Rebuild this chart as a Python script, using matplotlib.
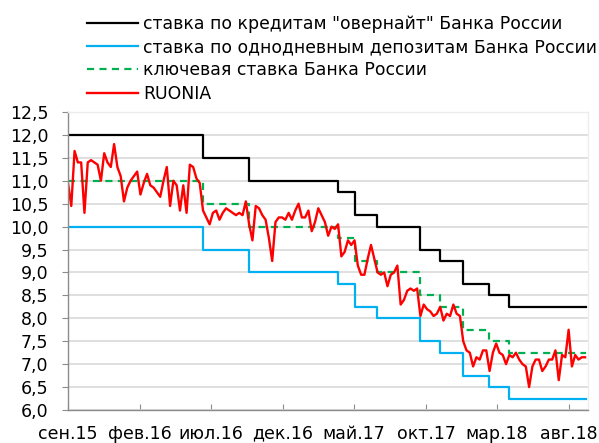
import matplotlib
matplotlib.use("Agg")
import matplotlib.pyplot as plt
import matplotlib.ticker as mticker
import pandas as pd

plt.rcParams['font.family'] = ['DejaVu Sans']

# Bank of Russia rate changes (date the new level came into force)
change_dates = ['2015-09-01', '2016-06-14', '2016-09-19', '2017-03-27', '2017-05-02',
                '2017-06-19', '2017-09-18', '2017-10-30', '2017-12-18', '2018-02-12',
                '2018-03-26', '2018-09-05']
overnight_rate = [12.0, 11.5, 11.0, 10.75, 10.25, 10.0, 9.5, 9.25, 8.75, 8.5, 8.25, 8.25]
deposit_rate = [10.0, 9.5, 9.0, 8.75, 8.25, 8.0, 7.5, 7.25, 6.75, 6.5, 6.25, 6.25]
key_rate = [11.0, 10.5, 10.0, 9.75, 9.25, 9.0, 8.5, 8.25, 7.75, 7.5, 7.25, 7.25]

# RUONIA, weekly readings from 1 Sep 2015
ruonia_start = '2015-09-01'
ruonia = [10.95, 10.45, 11.65, 11.4, 11.4, 10.3, 11.4, 11.45, 11.4, 11.35,
          11.0, 11.6, 11.4, 11.3, 11.8, 11.3, 11.1, 10.55, 10.85, 11.0,
          11.1, 11.2, 10.7, 10.95, 11.15, 10.9, 10.85, 10.75, 10.65, 11.0,
          11.3, 10.45, 11.0, 10.9, 10.35, 10.9, 10.3, 11.35, 11.3,
          11.05, 10.95, 10.35, 10.2, 10.05, 10.3, 10.35, 10.15, 10.3, 10.4,
          10.35, 10.3, 10.25, 10.3, 10.25, 10.55, 10.05, 9.7, 10.45, 10.4,
          10.25, 10.15, 9.75, 9.25, 10.1, 10.2, 10.2, 10.15, 10.3, 10.15,
          10.35, 10.5, 10.2, 10.2, 10.35, 9.9, 10.1, 10.4, 10.25, 10.1,
          9.8, 10.0, 9.95, 10.05, 9.35, 9.45, 9.7, 9.6, 9.7, 9.15,
          8.95, 8.95, 9.3, 9.6, 9.3, 9.0, 8.95, 9.0, 8.7, 8.95,
          9.0, 9.15, 8.3, 8.4, 8.6, 8.65, 8.6, 8.65, 8.05, 8.3,
          8.2, 8.15, 8.05, 8.1, 8.25, 7.95, 8.1, 8.05, 8.3,
          8.1, 8.05, 7.5, 7.3, 7.25, 6.95, 7.15, 7.1, 7.3, 7.3,
          6.85, 7.25, 7.45, 7.25, 7.2, 7.0, 7.2, 7.15, 7.25, 7.1,
          7.0, 6.95, 6.5, 6.95, 7.1, 7.1, 6.85, 6.95, 7.1, 7.1,
          7.3, 6.65, 7.2, 7.15, 7.75, 6.95, 7.2, 7.1, 7.15, 7.15]

tick_dates = ['2015-09-01', '2016-02-01', '2016-07-01', '2016-12-01',
              '2017-05-01', '2017-10-01', '2018-03-01', '2018-08-01']
tick_labels = ['сен.15', 'фев.16', 'июл.16', 'дек.16', 'май.17', 'окт.17', 'мар.18', 'авг.18']

steps_x = pd.to_datetime(change_dates)
ruonia_x = pd.date_range(ruonia_start, periods=len(ruonia), freq='7D')

fig = plt.figure(figsize=(5.99, 4.43), dpi=100)
ax = fig.add_axes([0.1135, 0.0745, 0.868, 0.6727])

l1, = ax.step(steps_x, overnight_rate, where='post', color='black', lw=1.6)
l2, = ax.step(steps_x, deposit_rate, where='post', color='#00b0f0', lw=1.6)
l3, = ax.step(steps_x, key_rate, where='post', color='#00b050', lw=1.6, dashes=(3.2, 2.4))
l4, = ax.plot(ruonia_x, ruonia, color='red', lw=1.7)

ax.set_ylim(6.0, 12.5)
ax.set_xlim(pd.Timestamp('2015-09-01'), pd.Timestamp('2018-09-10'))
ax.yaxis.set_major_locator(mticker.MultipleLocator(0.5))
ax.yaxis.set_major_formatter(mticker.FuncFormatter(lambda v, p: f'{v:.1f}'.replace('.', ',')))
ax.set_xticks(pd.to_datetime(tick_dates))
ax.set_xticklabels(tick_labels)

ax.grid(axis='y', color='#d9d9d9', lw=1.2)
ax.set_axisbelow(True)
for side in ['top', 'right']:
    ax.spines[side].set_color('#ececec')
    ax.spines[side].set_linewidth(1.0)
for side in ['left', 'bottom']:
    ax.spines[side].set_color('#8c8c8c')
    ax.spines[side].set_linewidth(1.0)
ax.tick_params(axis='y', direction='out', length=4.5, color='#8c8c8c', labelsize=12.5, pad=9.5)
ax.tick_params(axis='x', direction='in', length=4, color='#8c8c8c', labelsize=12.5, pad=10.5)

fig.legend([l1, l2, l3, l4],
           ['ставка по кредитам "овернайт" Банка России',
            'ставка по однодневным депозитам Банка России',
            'ключевая ставка Банка России',
            'RUONIA'],
           loc='upper left', bbox_to_anchor=(0.1452, 0.966), frameon=False,
           fontsize=12.4, borderpad=0, borderaxespad=0, handlelength=2.95,
           handletextpad=0.3, labelspacing=0.3)

fig.savefig('out.png', dpi=100)
